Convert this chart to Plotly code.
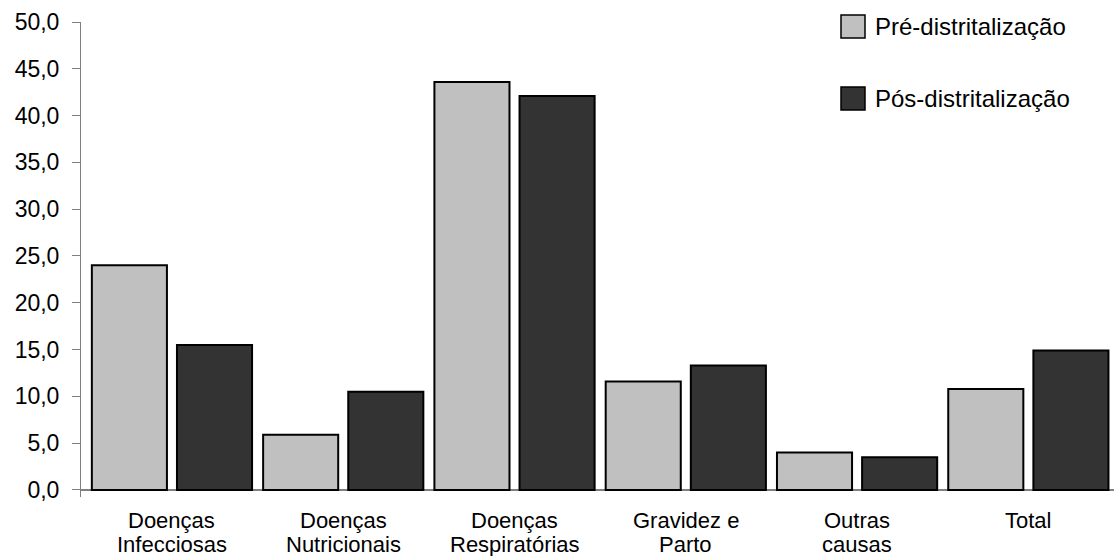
import plotly.graph_objects as go

# Data
categories = ["Doenças<br>Infecciosas", "Doenças<br>Nutricionais", "Doenças<br>Respiratórias",
              "Gravidez e<br>Parto", "Outras<br>causas", "Total"]
series_names = ["Pré-distritalização", "Pós-distritalização"]
pre_values = [24.0, 5.9, 43.6, 11.6, 4.0, 10.8]
pos_values = [15.5, 10.5, 42.1, 13.3, 3.5, 14.9]
y_ticks = [0, 5, 10, 15, 20, 25, 30, 35, 40, 45, 50]

colors = ["#C0C0C0", "#333333"]
FONT = "Liberation Sans, Arial, sans-serif"

W, H = 1115, 556
L, R, T, B = 81, 1, 22, 59
plot_w = W - L - R
plot_h = H - T - B

x_idx = list(range(len(categories)))

fig = go.Figure()
for name, vals, col in zip(series_names, [pre_values, pos_values], colors):
    fig.add_bar(x=x_idx, y=vals, name=name,
                marker=dict(color=col, line=dict(color="#000000", width=2)),
                showlegend=False)

# Category labels, one annotation per text line
annotations = []
first_line_y = 520  # pixel centre of the first label line
line_step = 24
for i, cat in enumerate(categories):
    for j, line in enumerate(cat.split("<br>")):
        annotations.append(dict(x=i, xref="x", y=0, yref="paper", yanchor="middle", xanchor="center",
                                yshift=(H - B) - first_line_y - j * line_step,
                                text=line, showarrow=False,
                                font=dict(family=FONT, size=22, color="#000000")))


def px_x(p):
    return (p - L) / plot_w


def px_y(p):
    return (H - B - p) / plot_h


# Legend drawn as boxes plus labels
shapes = []
legend_rows = [(15, 38), (87, 110)]
for (y0, y1), name, col in zip(legend_rows, series_names, colors):
    shapes.append(dict(type="rect", xref="paper", yref="paper",
                       x0=px_x(841), x1=px_x(865), y0=px_y(y1), y1=px_y(y0),
                       fillcolor=col, line=dict(color="#000000", width=1.5)))
    annotations.append(dict(x=px_x(873), y=px_y((y0 + y1) / 2), xref="paper", yref="paper",
                            xanchor="left", yanchor="middle", text=name, showarrow=False,
                            font=dict(family=FONT, size=24, color="#000000")))

fig.update_layout(
    width=W, height=H,
    margin=dict(l=L, r=R, t=T, b=B),
    paper_bgcolor="#FFFFFF", plot_bgcolor="#FFFFFF",
    barmode="group", bargap=0.006, bargroupgap=0.118,
    separators=",.",
    font=dict(family=FONT, color="#000000"),
    shapes=shapes, annotations=annotations,
    showlegend=False,
)
fig.update_xaxes(range=[-0.531, 5.5], showticklabels=False, ticks="", showline=False,
                 showgrid=False, zeroline=False, fixedrange=True)
fig.update_yaxes(range=[-0.75, 50], tickvals=y_ticks, tickformat=".1f", ticks="outside", ticklen=8,
                 tickcolor="#808080", tickwidth=1, showline=True, linecolor="#808080", linewidth=1,
                 showgrid=False, zeroline=True, zerolinecolor="#808080", zerolinewidth=1.5,
                 tickfont=dict(family=FONT, size=23, color="#000000"), ticklabelstandoff=8)

fig.write_html("out.html")
